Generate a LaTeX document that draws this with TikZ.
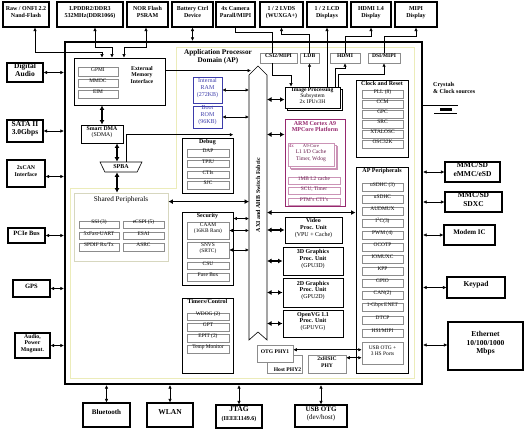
\documentclass[tikz,border=0pt]{standalone}
\usepackage{fontspec}
\setmainfont{Liberation Serif}
\usetikzlibrary{arrows.meta,fit,shapes.geometric,shadows}

\begin{document}
\begin{tikzpicture}[x=1pt,y=-1pt,
  ext/.style={draw,line width=1.1pt,inner sep=0pt,align=center,fill=white,font=\fontsize{7}{7.8}\selectfont\bfseries},
  top/.style={ext,font=\fontsize{6}{7}\selectfont\bfseries},
  blk/.style={draw,line width=0.9pt,inner sep=0pt,align=center,fill=white,font=\fontsize{6}{6.8}\selectfont},
  item/.style={draw=black!45,line width=0.5pt,inner sep=0pt,align=center,fill=white,font=\fontsize{5.4}{6}\selectfont},
  ttl/.style={inner sep=1.5pt,anchor=north,align=center,font=\fontsize{6}{6.8}\selectfont\bfseries},
  link/.style={>={Latex[length=3.5pt,width=3.5pt]},<->,line width=0.6pt},
  sig/.style={>={Latex[length=3.5pt,width=3.5pt]},->,line width=0.6pt},
  bus/.style={>={Latex[length=4.5pt,width=5pt]},<->,line width=1.3pt},
]
% Colours
\definecolor{apline}{RGB}{236,236,186}
\definecolor{memblue}{RGB}{60,60,170}
\definecolor{armpink}{RGB}{150,40,110}

\useasboundingbox (0,0) rectangle (525,430);

% Chip outline and AP domain
\draw[apline,line width=0.8pt] (176,47) -- (414,47) -- (414,378) -- (70,378) -- (70,188) -- (176,188) -- cycle;
\node[draw,line width=2.2pt,inner sep=0pt,fit={(65,42) (422,384)}] (main) {};
\node[font=\fontsize{7.2}{8}\selectfont\bfseries,align=center] (aptitle) at (218,57) {Application Processor\\Domain (AP)};

% Switch fabric
\coordinate (fabW) at (249,0);
\coordinate (fabE) at (267,0);
\draw[line width=0.6pt,fill=white] (249,75) -- (258,66) -- (267,75) -- (267,340) -- (258,332) -- (249,340) -- cycle;
\node[rotate=90,font=\fontsize{6}{7}\selectfont\bfseries] (fabric) at (258,195) {AXI and AHB Switch Fabric};

% Top row
\node[top,fit={(3,2) (49,27)}] (nand) {Raw / ONFI 2.2\\Nand-Flash};
\node[top,fit={(57,2) (123,27)}] (ddr) {LPDDR2/DDR3\\532MHz(DDR1066)};
\node[top,fit={(127,2) (168,27)}] (nor) {NOR Flash\\PSRAM};
\node[top,fit={(172,2) (213,27)}] (batt) {Battery Ctrl\\Device};
\node[top,fit={(216,2) (255,27)}] (cam) {4x Camera\\Parall/MIPI};
\node[top,fit={(260,2) (303,27)}] (lvds) {1 / 2 LVDS\\(WUXGA+)};
\node[top,fit={(307,2) (347,27)}] (lcd) {1 / 2 LCD\\Displays};
\node[top,fit={(351,2) (391,27)}] (hdmidisp) {HDMI 1.4\\Display};
\node[top,fit={(395,2) (437,27)}] (mipidisp) {MIPI\\Display};

% Display interfaces
\node[item,font=\fontsize{5.6}{6}\selectfont\bfseries,fit={(260,53) (297,63)}] (csi) {CSI2/MIPI};
\node[item,font=\fontsize{5.6}{6}\selectfont\bfseries,fit={(300,53) (319,63)}] (ldb) {LDB};
\node[item,font=\fontsize{5.6}{6}\selectfont\bfseries,fit={(330,53) (360,63)}] (hdmi) {HDMI};
\node[item,font=\fontsize{5.6}{6}\selectfont\bfseries,fit={(368,53) (400,63)}] (dsi) {DSI/MIPI};

% External memory interface
\node[blk,fit={(74,58) (165,105)}] (emi) {};
\node[item,fit={(78,67) (118,76)}] (gpmi) {GPMI};
\node[item,fit={(78,79) (118,87)}] (mmdc) {MMDC};
\node[item,fit={(78,90) (118,98)}] (eim) {EIM};
\node[font=\fontsize{5.8}{6.6}\selectfont\bfseries,align=center] (emitxt) at (142,75) {External\\Memory\\Interface};

\node[blk,font=\fontsize{5.8}{6.6}\selectfont,fit={(81,125) (123,143)}] (sdma) {\textbf{Smart DMA}\\(SDMA)};
\node[trapezium,trapezium angle=60,trapezium stretches=true,shape border rotate=180,draw,line width=0.6pt,fill=white,
  minimum width=42,minimum height=10,inner sep=0pt,font=\fontsize{6}{6}\selectfont\bfseries] (spba) at (121,167) {SPBA};

% Shared peripherals
\node[draw=apline!80!black!60,line width=0.8pt,inner sep=0pt,fill=white,fit={(74,193) (168,261)}] (shared) {};
\node[inner sep=1pt,anchor=north,font=\fontsize{7.2}{8}\selectfont] (sharedttl) at ([yshift=-3pt]shared.north) {Shared Peripherals};
\node[item,fit={(79,221) (119,228)}] (ssi) {SSI (3)};
\node[item,fit={(123,221) (164,228)}] (ecspi) {eCSPI (5)};
\node[item,fit={(79,232) (119,239)}] (uart) {5xFast-UART};
\node[item,fit={(123,232) (164,239)}] (esai) {ESAI};
\node[item,fit={(79,243) (119,251)}] (spdif) {SPDIF Rx/Tx};
\node[item,fit={(123,243) (164,251)}] (asrc) {ASRC};

% Memories
\node[blk,draw=memblue,text=memblue,line width=0.7pt,fit={(193,77) (222,103)}] (ram) {Internal\\RAM\\(272KB)};
\node[blk,draw=memblue,text=memblue,line width=0.7pt,fit={(193,106) (222,128)}] (rom) {Boot\\ROM\\(96KB)};

% Debug
\node[blk,fit={(182,138) (233,193)}] (debug) {};
\node[ttl] (debugttl) at (debug.north) {Debug};
\node[item,fit={(187,149) (229,157)}] (dap) {DAP};
\node[item,fit={(187,160) (229,167)}] (tpiu) {TPIU};
\node[item,fit={(187,171) (229,178)}] (ctis) {CTIs};
\node[item,fit={(187,181) (229,189)}] (sjc) {SJC};

% Security
\node[blk,fit={(182,212) (233,285)}] (secu) {};
\node[ttl] (secuttl) at (secu.north) {Security};
\node[item,fit={(187,222) (229,239)}] (caam) {CAAM\\(16KB Ram)};
\node[item,fit={(187,242) (229,258)}] (snvs) {SNVS\\(SRTC)};
\node[item,fit={(187,262) (229,269)}] (csu) {CSU};
\node[item,fit={(187,273) (229,281)}] (fuse) {Fuse Box};

% Timers
\node[blk,fit={(182,298) (233,373)}] (timers) {};
\node[ttl] (timersttl) at (timers.north) {Timers/Control};
\node[item,fit={(187,313) (229,320)}] (wdog) {WDOG (2)};
\node[item,fit={(187,323) (229,331)}] (gpt) {GPT};
\node[item,fit={(187,334) (229,342)}] (epit) {EPIT (2)};
\node[item,fit={(187,345) (229,353)}] (temp) {Temp Monitor};

% Image processing and ARM platform
\node[blk,font=\fontsize{5.6}{6.4}\selectfont,copy shadow={shadow xshift=2pt,shadow yshift=-2pt,fill=white,draw=black},fit={(285,87) (340,108)}] (ipu) {\textbf{Image Processing}\\Subsystem\\2x IPUv3H};
\node[blk,draw=armpink,line width=1pt,fit={(285,120) (345,207)}] (arm) {};
\node[ttl,text=armpink] (armttl) at (arm.north) {ARM Cortex A9\\MPCore Platform};
\node[item,draw=armpink!50,text=armpink!70!black,font=\fontsize{5.6}{6.3}\selectfont,
  double copy shadow={shadow xshift=1.8pt,shadow yshift=-1.8pt,fill=white,draw=armpink!50},fit={(288,143) (334,166)}] (core) {{\fontsize{4.6}{5}\selectfont A9-Core}\\L1 I/D Cache\\Timer, Wdog};
\node[anchor=north west,inner sep=1pt,text=armpink,font=\fontsize{5}{5}\selectfont] (fourx) at (core.north west) {4x};
\node[item,draw=armpink!50,text=armpink!70!black,fit={(288,177) (340,184)}] (ltwo) {1MB L2 cache};
\node[item,draw=armpink!50,text=armpink!70!black,fit={(288,187) (340,194)}] (scu) {SCU, Timer};
\node[item,draw=armpink!50,text=armpink!70!black,fit={(288,198) (340,205)}] (ptm) {PTM's CTI's};

% Multimedia units
\node[blk,fit={(285,217) (342,243)}] (vpu) {\textbf{Video}\\\textbf{Proc. Unit}\\(VPU + Cache)};
\node[blk,fit={(283,247) (343,275)}] (gputhree) {\textbf{3D Graphics}\\\textbf{Proc. Unit}\\(GPU3D)};
\node[blk,fit={(283,278) (343,307)}] (gputwo) {\textbf{2D Graphics}\\\textbf{Proc. Unit}\\(GPU2D)};
\node[blk,fit={(283,310) (343,337)}] (gpuvg) {\textbf{OpenVG 1.1}\\\textbf{Proc. Unit}\\(GPUVG)};

% USB PHYs
\node[item,fit={(267,355) (302,373)}] (hostphy) {};
\node[anchor=south,inner sep=1.5pt,font=\fontsize{5.6}{6}\selectfont\bfseries] (hosttxt) at ([xshift=3pt]hostphy.south) {Host PHY2};
\node[item,font=\fontsize{5.6}{6}\selectfont\bfseries,fit={(257,345) (293,362)}] (otgphy) {OTG PHY1};
\node[item,font=\fontsize{5.6}{6.3}\selectfont\bfseries,fit={(308,355) (346,373)}] (hsic) {2xHSIC\\PHY};

% Clock and reset
\node[blk,fit={(356,80) (408,157)}] (clk) {};
\node[ttl] (clkttl) at (clk.north) {Clock and Reset};
\node[item,fit={(362,90) (403,98)}] (pll) {PLL (8)};
\node[item,fit={(362,100) (403,108)}] (ccm) {CCM};
\node[item,fit={(362,110) (403,118)}] (gpc) {GPC};
\node[item,fit={(362,120) (403,128)}] (src) {SRC};
\node[item,fit={(362,130) (403,138)}] (xtalosc) {XTALOSC};
\node[item,fit={(362,140) (403,148)}] (osc) {OSC32K};

% AP peripherals
\node[blk,fit={(356,167) (408,373)}] (periph) {};
\node[ttl] (periphttl) at (periph.north) {AP Peripherals};
\node[item,fit={(362,183) (403,191)}] (usdhca) {uSDHC (3)};
\node[item,fit={(362,195) (403,203)}] (usdhcb) {uSDHC};
\node[item,fit={(362,207) (403,215)}] (audmux) {AUDMUX};
\node[item,fit={(362,219) (403,227)}] (iic) {I\textsuperscript{2}C(3)};
\node[item,fit={(362,231) (403,239)}] (pwm) {PWM (4)};
\node[item,fit={(362,243) (403,251)}] (ocotp) {OCOTP};
\node[item,fit={(362,255) (403,263)}] (iomuxc) {IOMUXC};
\node[item,fit={(362,267) (403,275)}] (kpp) {KPP};
\node[item,fit={(362,279) (403,287)}] (gpio) {GPIO};
\node[item,fit={(362,291) (403,299)}] (can) {CAN(2)};
\node[item,fit={(362,303) (403,311)}] (enet) {1-Gbps ENET};
\node[item,fit={(362,316) (403,324)}] (dtcp) {DTCP};
\node[item,fit={(362,329) (403,337)}] (hsi) {HSI/MIPI};
\node[item,fit={(362,342) (403,364)}] (usb) {USB OTG +\\3 HS Ports};

% Left side
\node[ext,font=\fontsize{7.5}{8.3}\selectfont\bfseries,fit={(7,63) (43,82)}] (daudio) {Digital\\Audio};
\node[ext,font=\fontsize{7.5}{8.3}\selectfont\bfseries,fit={(7,120) (43,142)}] (sata) {SATA II\\3.0Gbps};
\node[ext,font=\fontsize{5.8}{7}\selectfont\bfseries,fit={(7,160) (45,187)}] (can2) {2xCAN\\Interface};
\node[ext,font=\fontsize{6.5}{7}\selectfont\bfseries,fit={(8,228) (45,243)}] (pcie) {PCIe Bus};
\node[ext,font=\fontsize{6.5}{7}\selectfont\bfseries,fit={(13,280) (50,297)}] (gps) {GPS};
\node[ext,font=\fontsize{5.8}{6.4}\selectfont\bfseries,fit={(15,333) (50,358)}] (power) {Audio,\\Power\\Mngmnt.};

% Right side
\node[anchor=west,inner sep=0pt,align=left,font=\fontsize{6}{7}\selectfont\bfseries] (xtaltxt) at (433,88) {Crystals\\\& Clock sources};
\node[ext,font=\fontsize{7.5}{8.3}\selectfont\bfseries,fit={(445,162) (500,182)}] (mmca) {MMC/SD\\eMMC/eSD};
\node[ext,font=\fontsize{7.5}{8.3}\selectfont\bfseries,fit={(445,192) (502,212)}] (mmcb) {MMC/SD\\SDXC};
\node[ext,fit={(444,225) (495,245)}] (modem) {Modem IC};
\node[ext,font=\fontsize{7.5}{8.3}\selectfont\bfseries,fit={(447,277) (505,298)}] (keypad) {Keypad};
\node[ext,font=\fontsize{7.5}{8.3}\selectfont\bfseries,fit={(448,322) (523,370)}] (eth) {Ethernet\\10/100/1000\\Mbps};

% Bottom
\node[ext,fit={(83,403) (130,427)}] (bt) {Bluetooth};
\node[ext,font=\fontsize{7.5}{8.3}\selectfont\bfseries,fit={(147,403) (193,427)}] (wlan) {WLAN};
\node[ext,font=\fontsize{7.5}{8.3}\selectfont\bfseries,fit={(216,405) (262,428)}] (jtag) {JTAG\\{\fontsize{6}{7}\selectfont(IEEE1149.6)}};
\node[ext,font=\fontsize{7}{8.3}\selectfont\bfseries,fit={(295,405) (347,427)}] (usbotg) {USB OTG\\{\mdseries(dev/host)}};

% Crystal symbol
\draw[line width=0.9pt] (main.east |- xtaltxt.south) ++(0,12) -- ++(35,0);
\fill ([yshift=-14.5pt]xtaltxt.south west) ++(7,0) rectangle ++(12,3);
\draw[line width=0.9pt] ([yshift=-20pt]xtaltxt.south west) ++(1,0) -- ++(23,0);

% Top connections
\draw[link] ([xshift=9pt]nand.south) -- ++(0,25) -| ([xshift=-17.5pt]emi.north);
\draw[link] ([xshift=5pt]ddr.south) -- ++(0,20) -| ([xshift=-7.5pt]emi.north);
\draw[link] ([xshift=-1.5pt]nor.south) -- ++(0,20) -| ([xshift=4.5pt]emi.north);
\draw[link] (batt.south) -- (batt.south |- main.north);
\draw[line width=0.6pt] (cam.south) -- ++(0,5) -| ([xshift=-6.5pt]csi.north);
\draw[sig] ([xshift=-6.5pt]csi.south) -- ++(0,12) -| ([xshift=-21.5pt]ipu.north);
\draw[sig] (ldb.north) -- ++(0,-18) -| (lvds.south);
\draw[sig] (ldb.south |- ipu.north) -- (ldb.south);
\draw[sig] (lcd.south |- ipu.north) -- (lcd.south);
\draw[sig] (hdmi.north) -- ++(0,-16) -| (hdmidisp.south);
\draw[sig] ([xshift=23pt]ipu.north) -- ++(0,-18) -| (hdmi.south);
\draw[sig] (dsi.north) -- ++(0,-16) -| (mipidisp.south);
\draw[sig] ([xshift=26pt]ipu.north) -- ++(0,-12) -| (dsi.south);

% Inside connections
\draw[sig,line width=1pt] ([yshift=-13pt]emi.north east) -- ([yshift=-13pt,xshift=2pt]emi.north east -| fabW);
\draw[bus] (sdma.north) -- (sdma.north |- emi.south);
\draw[bus] ([xshift=-4pt]spba.north) -- ([xshift=-4pt]spba.north |- sdma.south);
\draw[bus] ([xshift=-4pt]spba.south) -- ([xshift=-4pt]spba.south |- shared.north);
\draw[sig,line width=0.8pt] (spba.north east) -- ++(0,-27) -- ++(107,0);
\draw[bus] ([yshift=-9pt]shared.north east) -- ([yshift=-9pt]shared.north east -| fabW);
\draw[link] (ram.east) -- (ram.east -| fabW);
\draw[link] (rom.east) -- (rom.east -| fabW);
\draw[link] ([yshift=-7pt]secu.north east) -- ([yshift=-7pt]secu.north east -| fabW);
\draw[link] (caam.east) -- (caam.east -| fabW);
\draw[link] (snvs.east) -- (snvs.east -| fabW);
\draw[bus] ([yshift=-13pt]ipu.north west) -- ([yshift=-13pt]ipu.north west -| fabE);
\draw[bus] ([yshift=-15pt]arm.north west) -- ([yshift=-15pt]arm.north west -| fabE);
\draw[bus] ([yshift=-46pt]periph.north west) -- ([yshift=-46pt]periph.north west -| fabE);
\draw[bus] (vpu.west) -- (vpu.west -| fabE);
\draw[bus] (gputhree.west) -- (gputhree.west -| fabE);
\draw[bus] (gputwo.west) -- (gputwo.west -| fabE);
\draw[bus] (gpuvg.west) -- (gpuvg.west -| fabE);
\draw[link] ([yshift=-5pt]otgphy.north east) -- ([yshift=-5pt]otgphy.north east -| usb.west);
\draw[link] ([yshift=-3pt]hsic.north east) -- ([yshift=-3pt]hsic.north east -| usb.west);

% Outside connections
\draw[link] (daudio.east) -- (daudio.east -| main.west);
\draw[link] (sata.east) -- (sata.east -| main.west);
\draw[link] ([yshift=-3pt]can2.east) -- ([yshift=-3pt]can2.east -| main.west);
\draw[link] (pcie.east) -- (pcie.east -| main.west);
\draw[link] (gps.east) -- (gps.east -| main.west);
\draw[link] (power.east) -- (power.east -| main.west);
\draw[link] (mmca.west) -- (mmca.west -| main.east);
\draw[link] (mmcb.west) -- (mmcb.west -| main.east);
\draw[link] (modem.west) -- (modem.west -| main.east);
\draw[link] (keypad.west) -- (keypad.west -| main.east);
\draw[link] ([yshift=1pt]eth.west) -- ([yshift=1pt]eth.west -| main.east);
\draw[link] (bt.north) -- (bt.north |- main.south);
\draw[link] (wlan.north) -- (wlan.north |- main.south);
\draw[link] (jtag.north) -- (jtag.north |- main.south);
\draw[link] (usbotg.north) -- (usbotg.north |- main.south);
\end{tikzpicture}
\end{document}
